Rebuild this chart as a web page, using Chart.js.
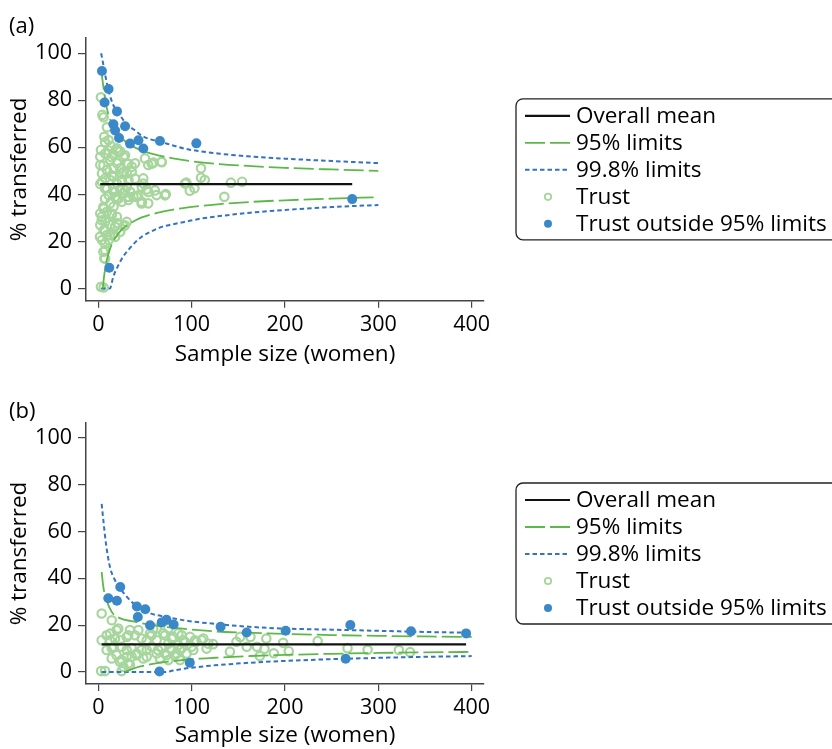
<!DOCTYPE html>
<html>
<head>
<meta charset="utf-8">
<script src="https://cdn.jsdelivr.net/npm/chart.js@4.4.1/dist/chart.umd.min.js"></script>
<style>
    html, body { margin: 0; padding: 0; background: #fff; overflow: hidden; }
    .panel { position: absolute; left: 0; }
    #panelA { top: 0; }
    #panelB { top: 375px; }
</style>
</head>
<body>
<div class="panel" id="panelA"><canvas id="chartA" width="832" height="375"></canvas></div>
<div class="panel" id="panelB"><canvas id="chartB" width="832" height="374"></canvas></div>
<script>
// ---- shared ticks ----
const xTicks = [0, 100, 200, 300, 400];
const yTicks = [0, 20, 40, 60, 80, 100];

// ---- panel (a) ----
const aMeanN = [2, 272];
const aMeanPct = [44.4, 44.4];
const aUp95N = [3, 4, 5, 6, 8, 10, 12, 15, 20, 25, 30, 40, 50, 60, 80, 100, 130, 160, 200, 250, 300];
const aUp95 = [93, 90, 87, 84.2, 78.8, 75.2, 72.5, 69.6, 66.2, 63.9, 62.2, 59.8, 58.2, 57, 55.3, 54.1, 52.9, 52.1, 51.3, 50.6, 50.0];
const aLo95N = [4.8, 6, 7.2, 10, 14, 18, 25, 32, 40, 46.5, 55, 68, 80, 91, 110, 130, 163, 200, 250, 300];
const aLo95 = [0, 4.6, 8, 13.6, 18.4, 21.4, 25, 27.2, 29, 30.2, 31.3, 32.6, 33.5, 34.2, 35.1, 35.9, 36.8, 37.5, 38.2, 38.8];
const aUp998N = [3, 5, 8, 12.5, 16, 21, 27, 32, 40, 46.5, 55, 68, 80, 93, 110, 130, 160, 200, 250, 300];
const aUp998 = [100, 96, 89.5, 82, 78, 75, 71.5, 69.3, 67, 65, 63.5, 62.2, 60.8, 59.4, 58.3, 57.3, 56.2, 55.2, 54.2, 53.3];
const aLo998N = [3, 12.5, 16, 21, 27, 32, 40, 46.5, 55, 68, 80, 91, 110, 130, 163, 200, 250, 300];
const aLo998 = [0, 0, 5, 9.5, 13.8, 16.3, 19.8, 22, 23.9, 26.2, 27.3, 28.2, 29.7, 30.8, 32.2, 33.4, 34.6, 35.5];
const aTrustN = [2.8, 4.3, 5.7, 9.2, 6.4, 11, 13.5, 2.8, 2.1, 7.4, 19.9, 23.4, 16.3, 2.1, 12.8, 27, 19.9, 30.5, 35.8, 39.4,
    50, 53.5, 58.9, 67.7, 110, 110, 114, 94.3, 98, 103, 142, 154, 135, 72.3, 62.4, 51.8, 53.5, 46.5, 41.1, 34,
    30.5, 27, 23.4, 19.9, 16.3, 12.8, 7.4, 3.9, 2.1, 9.2, 16.3, 11, 19.9, 25.2, 32.3, 37.6, 30.5, 35.8, 27, 23.4,
    16.3, 9.2, 3.9, 48.2, 46.5, 32.3, 25.2, 5.7, 9.2, 3.9, 14.5, 16.3, 7.4, 2.1, 5.7, 12.8, 19.9, 27, 23.4, 16.3,
    9.2, 3.9, 11, 7.4, 6.4, 18.1, 19.9, 12.8, 2.1, 2.8, 5.7, 7.2, 10.7, 21.4, 14.4, 28.6, 5.4, 32.1, 14.4, 25,
    39.3, 48.2, 7.2, 17.9, 28.6, 53.6, 60.7, 71.5, 42.8, 21.4, 7.2, 92.9, 17.9, 32.2, 46.4, 5.4, 14.4, 3.6, 28.6, 17.9,
    7.2, 1.8, 12.5, 7.2, 5.4, 7.2, 21.4, 30.4, 57.2, 68];
const aTrustPct = [81.3, 73.8, 72.8, 68.5, 64.5, 63.1, 60.6, 58.9, 56, 57.4, 59.6, 58.2, 56.7, 52.5, 54.6, 56, 53.2, 53.2, 51.8, 53.2,
    55.3, 52.5, 53.5, 53.9, 51.1, 47.1, 46.1, 45, 41.6, 42.6, 45, 45.4, 39, 40.1, 39.7, 42.1, 36.2, 36.9, 39, 41.1,
    43.3, 40.4, 42.1, 44.7, 47.5, 46.1, 46.8, 45.4, 44.4, 42.6, 41.1, 39.7, 38.3, 36.9, 37.6, 39, 48.9, 49.6, 49.6, 51.1,
    51.1, 50.4, 48.9, 46.8, 43.3, 46.1, 46.1, 34, 32.6, 30.5, 31.9, 34.8, 28.4, 27, 24.8, 27, 27.7, 26.5, 24.1, 23.4,
    22.7, 20.6, 20.6, 16.3, 12.8, 22, 30.5, 36.2, 31.9, 0.7, 0.4, 62.2, 58.7, 58.7, 55.8, 56.6, 52.3, 53, 48.1, 48.8,
    46.7, 44.6, 42.5, 41, 41.7, 41, 41.7, 39.6, 39.6, 38.2, 38.2, 44.6, 38.9, 38.9, 36.1, 34.6, 31.2, 29, 26.9, 26.2,
    24.8, 22, 22.6, 19, 15.6, 12.7, 27.6, 28.3, 53, 53.7];
const aOutN = [3.9, 11, 6.7, 20, 16.1, 28.7, 18, 22.2, 34, 43, 48.2, 66, 105, 11.7, 272];
const aOutPct = [92.5, 84.8, 79.1, 75.3, 69.8, 69, 67.2, 64, 61.6, 63, 59.5, 62.7, 61.7, 8.8, 38];

// ---- panel (b) ----
const bMeanN = [3.6, 394];
const bMeanPct = [11.8, 11.8];
const bUp95N = [3.6, 5.4, 8.9, 14.3, 23, 37.5, 59, 87.5, 123, 159, 200, 250, 300, 350, 400];
const bUp95 = [42.7, 36.3, 30.6, 25.7, 23, 21.6, 20, 18.6, 17.4, 16.8, 16.3, 15.8, 15.45, 15.2, 15.0];
const bLo95N = [28.7, 35, 45, 57, 70, 85, 103, 125, 163, 200, 250, 300, 350, 400];
const bLo95 = [0, 1.1, 2.4, 3.4, 4.2, 4.9, 5.6, 6.1, 6.85, 7.3, 7.8, 8.15, 8.4, 8.6];
const bUp998N = [3.6, 5.4, 8.2, 12.5, 18, 25, 34, 43, 55, 73, 98, 130, 159, 195, 250, 300, 350, 400];
const bUp998 = [71.8, 64.7, 54.8, 44.8, 39.1, 34.9, 30.6, 27.8, 25.2, 23.5, 21.7, 20.4, 19.4, 18.6, 18.1, 17.6, 17.1, 16.8];
const bLo998N = [3.6, 71.4, 80, 93, 110, 125, 145, 163, 200, 250, 300, 350, 400];
const bLo998 = [0, 0, 0.65, 1.5, 2.3, 2.9, 3.5, 4.0, 4.75, 5.5, 6.05, 6.5, 6.8];
const bTrustN = [3.6, 14.4, 21.4, 12.5, 3.6, 17.9, 32.1, 42.9, 46.4, 57.2, 62.5, 71.5, 78.6, 89.3, 92.9, 103.6, 112.5, 117.9, 14.4, 25,
    35.8, 46.4, 57.2, 67.9, 78.6, 89.3, 100, 19.6, 30.4, 41.1, 51.8, 62.5, 73.2, 83.9, 32.1, 23.2, 3, 7.2, 25, 85.7,
    75, 8.9, 19.6, 23.2, 30.4, 33.9, 39.3, 51.8, 55.4, 58.9, 62.5, 69.6, 75, 80.4, 85.7, 91, 98.2, 105, 110.7, 123,
    141, 148, 152, 159, 8.9, 14.3, 25, 30.4, 35.7, 26.8, 33.9, 41, 48.2, 51.8, 64, 71.4, 76.8, 82, 87.5, 94.6,
    101.8, 116, 75, 87.5, 66, 12.5, 16, 180, 198, 170, 178, 188, 173, 204, 235, 267, 288.5, 322, 334, 163];
const bTrustPct = [25, 22.1, 18.6, 16.4, 13.6, 14.3, 15.7, 17.9, 14.3, 15.7, 18.6, 15.7, 14.3, 15.7, 12.9, 13.6, 14.3, 12.1, 10.2, 10.8,
    10.2, 9.4, 10.8, 10.2, 9.4, 10.2, 10.8, 7.2, 6.5, 7.2, 6.5, 7.9, 7.2, 7.9, 3.7, 4.4, 0.4, 0.4, 0.4, 11.5,
    12.1, 15.7, 17.9, 13.6, 15, 17.9, 15.7, 13.6, 16.5, 18.6, 13.6, 16.5, 18.6, 15, 16.5, 13.6, 15, 12.9, 13.6, 11.9,
    8.7, 12.9, 15, 10.8, 9.4, 5.8, 5.1, 9.4, 6.5, 2.3, 3, 7.9, 5.8, 9.4, 9.4, 7.9, 10, 7.2, 9.4, 7.9,
    9.4, 10, 5.1, 5.1, 5.8, 13.6, 10.8, 14.3, 12.5, 10.8, 9.9, 8, 6.8, 8.9, 13.2, 10.2, 9.5, 9.4, 8.5, 15];
const bOutN = [23.5, 10.7, 19.9, 41.3, 50.3, 42.3, 55.4, 67.9, 73, 80.7, 131, 159, 98, 65.5, 200.7, 270, 335, 394, 265];
const bOutPct = [36.3, 31.5, 30.4, 28, 26.8, 23.5, 20, 21.2, 22.3, 20.3, 19.3, 16.9, 4, 0.2, 17.6, 20.1, 17.4, 16.5, 5.7];

// ---- helpers ----
const FONT = "'Open Sans', 'Noto Sans', sans-serif";
const COLORS = {
    mean: "#111111",
    lim95: "#5db84a",
    lim998: "#3472c2",
    trust: "#a6d69c",
    outside: "#3b88c9",
    axis: "#444444",
    text: "#000000"
};

const zip = (xs, ys) => xs.map((x, i) => ({ x: x, y: ys[i] }));

const lineSet = (label, xs, ys, color, dash, width, order) => ({
    label: label,
    inLegend: label !== null,
    data: zip(xs, ys),
    showLine: true,
    borderColor: color,
    backgroundColor: color,
    borderWidth: width,
    borderDash: dash,
    pointRadius: 0,
    cubicInterpolationMode: "monotone",
    order: order
});

const buildDatasets = (p) => [
    {
        label: "Trust outside 95% limits",
        inLegend: true,
        data: zip(p.outN, p.outPct),
        pointRadius: 5,
        pointBorderWidth: 0,
        pointBackgroundColor: COLORS.outside,
        pointBorderColor: COLORS.outside,
        legendRank: 4,
        order: 0
    },
    Object.assign(lineSet("Overall mean", p.meanN, p.meanPct, COLORS.mean, [], 2.2, 1), { legendRank: 0 }),
    Object.assign(lineSet("95% limits", p.up95N, p.up95, COLORS.lim95, [20, 5], 1.8, 2), { legendRank: 1 }),
    lineSet(null, p.lo95N, p.lo95, COLORS.lim95, [20, 5], 1.8, 2),
    Object.assign(lineSet("99.8% limits", p.up998N, p.up998, COLORS.lim998, [4.5, 3], 2, 3), { legendRank: 2 }),
    lineSet(null, p.lo998N, p.lo998, COLORS.lim998, [4.5, 3], 2, 3),
    {
        label: "Trust",
        inLegend: true,
        data: zip(p.trustN, p.trustPct),
        pointRadius: 4.2,
        pointBorderWidth: 2.2,
        pointBackgroundColor: "rgba(255,255,255,0)",
        pointBorderColor: COLORS.trust,
        legendRank: 3,
        order: 4
    }
];

// framed legend to the right of the plot, like the original figure
const funnelLegend = {
    id: "funnelLegend",
    afterDraw(chart) {
        const { ctx, chartArea } = chart;
        const items = chart.data.datasets
            .filter((ds) => ds.inLegend)
            .sort((a, b) => a.legendRank - b.legendRank);
        const rowH = 27;
        const boxH = 141;
        const left = chartArea.right + 32;
        const top = (chartArea.top + chartArea.bottom) / 2 - boxH / 2;

        ctx.save();
        ctx.beginPath();
        ctx.roundRect(left, top, 360, boxH, 7);
        ctx.strokeStyle = "#222";
        ctx.lineWidth = 1.3;
        ctx.stroke();

        ctx.font = "22.5px " + FONT;
        ctx.textBaseline = "middle";
        ctx.textAlign = "left";
        items.forEach((ds, i) => {
            const y = top + 17 + i * rowH;
            if (ds.showLine) {
                ctx.beginPath();
                ctx.setLineDash(ds.borderDash || []);
                ctx.strokeStyle = ds.borderColor;
                ctx.lineWidth = ds.borderWidth;
                ctx.moveTo(left + 9, y);
                ctx.lineTo(left + 54, y);
                ctx.stroke();
                ctx.setLineDash([]);
            } else {
                ctx.beginPath();
                ctx.arc(left + 32, y, ds.pointBorderWidth ? 3.2 : 4, 0, Math.PI * 2);
                if (ds.pointBorderWidth) {
                    ctx.strokeStyle = ds.pointBorderColor;
                    ctx.lineWidth = 1.8;
                    ctx.stroke();
                } else {
                    ctx.fillStyle = ds.pointBackgroundColor;
                    ctx.fill();
                }
            }
            ctx.fillStyle = COLORS.text;
            ctx.fillText(ds.label, left + 60, y + 1);
        });
        ctx.restore();
    }
};

const panelTag = {
    id: "panelTag",
    afterDraw(chart, args, opts) {
        const { ctx } = chart;
        ctx.save();
        ctx.font = "22px " + FONT;
        ctx.fillStyle = COLORS.text;
        ctx.textBaseline = "middle";
        ctx.fillText(opts.text, opts.x, opts.y);
        ctx.restore();
    }
};

const buildChart = (canvas, p) => new Chart(canvas, {
    type: "scatter",
    data: { datasets: buildDatasets(p) },
    plugins: [funnelLegend, panelTag],
    options: {
        responsive: false,
        animation: false,
        devicePixelRatio: 1,
        events: [],
        layout: { padding: { left: 8, top: p.top, right: 348, bottom: p.bottom } },
        plugins: {
            legend: { display: false },
            tooltip: { enabled: false },
            panelTag: { text: p.tag, x: 9, y: p.tagY }
        },
        scales: {
            x: {
                type: "linear",
                min: -13.2,
                max: 413.2,
                afterBuildTicks: (scale) => { scale.ticks = xTicks.map((v) => ({ value: v })); },
                afterFit: (scale) => { scale.height = p.xHeight; },
                grid: { drawOnChartArea: false, drawTicks: true, tickLength: 7, color: COLORS.axis, lineWidth: 1.2 },
                border: { display: true, color: COLORS.axis, width: 1.5 },
                ticks: { padding: 4, maxRotation: 0, color: COLORS.text, font: { family: FONT, size: 21.5 } },
                title: {
                    display: true,
                    text: "Sample size (women)",
                    color: COLORS.text,
                    padding: { top: 0, bottom: 0 },
                    font: { family: FONT, size: 22.5 }
                }
            },
            y: {
                type: "linear",
                min: p.yMin,
                max: p.yMax,
                afterBuildTicks: (scale) => { scale.ticks = yTicks.map((v) => ({ value: v })); },
                afterFit: (scale) => { scale.width = 78; },
                grid: { drawOnChartArea: false, drawTicks: true, tickLength: 8, color: COLORS.axis, lineWidth: 1.2 },
                border: { display: true, color: COLORS.axis, width: 1.5 },
                ticks: { padding: 6, color: COLORS.text, font: { family: FONT, size: 21.5 } },
                title: {
                    display: true,
                    text: "% transferred",
                    color: COLORS.text,
                    padding: { top: -2, bottom: 0 },
                    font: { family: FONT, size: 22.5 }
                }
            }
        }
    }
});

buildChart(document.getElementById("chartA"), {
    tag: "(a)", tagY: 27, top: 38, bottom: 7, xHeight: 67.3, yMin: -5.2, yMax: 106.5,
    meanN: aMeanN, meanPct: aMeanPct,
    up95N: aUp95N, up95: aUp95, lo95N: aLo95N, lo95: aLo95,
    up998N: aUp998N, up998: aUp998, lo998N: aLo998N, lo998: aLo998,
    trustN: aTrustN, trustPct: aTrustPct, outN: aOutN, outPct: aOutPct
});

buildChart(document.getElementById("chartB"), {
    tag: "(b)", tagY: 37, top: 48, bottom: 0, xHeight: 65, yMin: -5.1, yMax: 106.3,
    meanN: bMeanN, meanPct: bMeanPct,
    up95N: bUp95N, up95: bUp95, lo95N: bLo95N, lo95: bLo95,
    up998N: bUp998N, up998: bUp998, lo998N: bLo998N, lo998: bLo998,
    trustN: bTrustN, trustPct: bTrustPct, outN: bOutN, outPct: bOutPct
});
</script>
</body>
</html>
